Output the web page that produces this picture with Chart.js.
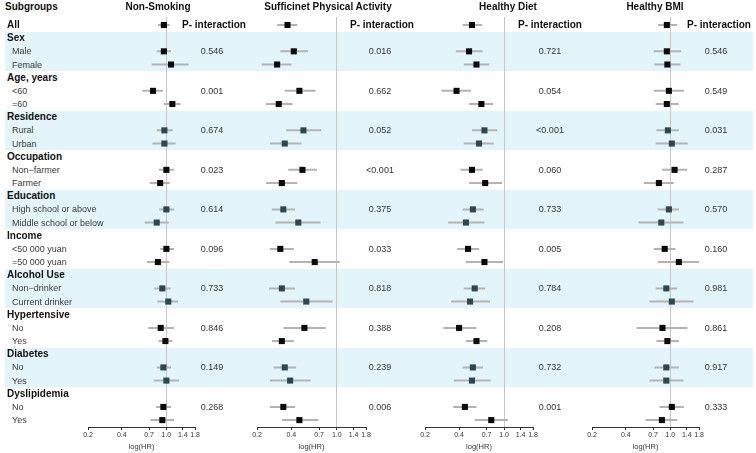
<!DOCTYPE html>
<html>
<head>
<meta charset="utf-8">
<script src="https://cdn.jsdelivr.net/npm/chart.js@4.4.0/dist/chart.umd.min.js"></script>
<style>
  html, body { margin: 0; padding: 0; background: #fff; }
  #stage { position: relative; width: 756px; height: 453px; overflow: hidden;
           font-family: "Liberation Sans", Arial, sans-serif; }
  .band { position: absolute; left: 5px; width: 748px; background: #e3f4fa; }
  .txt  { position: absolute; white-space: nowrap; line-height: 1; transform: translateY(-50%); }
  .ctr  { transform: translate(-50%, -50%); }
  .hd   { font-weight: bold; font-size: 10px; color: #111; }
  .sub  { font-size: 9px; color: #3a3a3a; }
  .pv   { font-size: 9px; color: #333; }
  canvas { position: absolute; top: 0; }
</style>
</head>
<body>
<div id="stage"></div>
<script>
// ---- data ----
const groups = ["Sex", "Age, years", "Residence", "Occupation", "Education",
                "Income", "Alcohol Use", "Hypertensive", "Diabetes", "Dyslipidemia"];
const subgroups = [
  ["Male", "Female"], ["<60", "=60"], ["Rural", "Urban"], ["Non\u2212farmer", "Farmer"],
  ["High school or above", "Middle school or below"], ["<50 000 yuan", "=50 000 yuan"],
  ["Non\u2212drinker", "Current drinker"], ["No", "Yes"], ["No", "Yes"], ["No", "Yes"],
];
const slateGroups = ["Residence", "Education", "Alcohol Use", "Diabetes"];
const bandGroups  = ["Sex", "Residence", "Education", "Alcohol Use", "Diabetes"];

const panelTitles = ["Non-Smoking", "Sufficinet Physical Activity", "Healthy Diet", "Healthy BMI"];
const tickValues  = [0.2, 0.4, 0.7, 1.0, 1.4, 1.8];

// order: All, then the two subgroups of each group
const nonSmokingHR   = [0.95, 0.95, 1.10, 0.76, 1.13, 0.96, 0.96, 1.00, 0.88, 1.00, 0.82, 1.00, 0.84, 0.92, 1.04, 0.89, 0.98, 0.94, 1.00, 0.94, 0.92];
const nonSmokingLow  = [0.84, 0.82, 0.74, 0.61, 0.95, 0.82, 0.75, 0.86, 0.71, 0.86, 0.64, 0.88, 0.67, 0.78, 0.83, 0.69, 0.85, 0.82, 0.77, 0.81, 0.72];
const nonSmokingHigh = [1.07, 1.10, 1.58, 0.93, 1.34, 1.14, 1.21, 1.17, 1.07, 1.17, 1.05, 1.17, 1.06, 1.09, 1.27, 1.17, 1.13, 1.10, 1.30, 1.10, 1.17];
const nonSmokingP    = ["0.546", "0.001", "0.674", "0.023", "0.614", "0.096", "0.733", "0.846", "0.149", "0.268"];

const activityHR   = [0.37, 0.42, 0.30, 0.47, 0.31, 0.51, 0.35, 0.50, 0.33, 0.34, 0.46, 0.32, 0.64, 0.33, 0.54, 0.52, 0.33, 0.35, 0.39, 0.34, 0.47];
const activityLow  = [0.30, 0.32, 0.22, 0.35, 0.24, 0.36, 0.26, 0.375, 0.24, 0.27, 0.29, 0.26, 0.385, 0.255, 0.32, 0.34, 0.27, 0.28, 0.26, 0.26, 0.33];
const activityHigh = [0.45, 0.56, 0.40, 0.65, 0.41, 0.73, 0.49, 0.67, 0.45, 0.43, 0.72, 0.42, 1.06, 0.43, 0.92, 0.80, 0.42, 0.44, 0.59, 0.43, 0.69];
const activityP    = ["0.016", "0.662", "0.052", "<0.001", "0.375", "0.033", "0.818", "0.388", "0.239", "0.006"];

const dietHR   = [0.52, 0.49, 0.57, 0.38, 0.63, 0.67, 0.60, 0.52, 0.68, 0.53, 0.46, 0.48, 0.67, 0.55, 0.50, 0.40, 0.57, 0.53, 0.52, 0.45, 0.77];
const dietLow  = [0.43, 0.375, 0.44, 0.28, 0.49, 0.52, 0.44, 0.41, 0.49, 0.43, 0.32, 0.385, 0.46, 0.44, 0.34, 0.29, 0.46, 0.43, 0.36, 0.355, 0.55];
const dietHigh = [0.64, 0.645, 0.74, 0.51, 0.80, 0.87, 0.81, 0.645, 0.96, 0.66, 0.67, 0.60, 0.98, 0.68, 0.75, 0.57, 0.71, 0.65, 0.76, 0.57, 1.08];
const dietP    = ["0.721", "0.054", "<0.001", "0.060", "0.733", "0.005", "0.784", "0.208", "0.732", "0.001"];

const bmiHR   = [0.93, 0.93, 0.94, 0.97, 0.93, 0.95, 1.03, 1.09, 0.79, 0.97, 0.83, 0.89, 1.19, 0.92, 1.03, 0.85, 0.94, 0.92, 0.92, 1.03, 0.84];
const bmiLow  = [0.775, 0.71, 0.72, 0.71, 0.74, 0.75, 0.74, 0.84, 0.58, 0.77, 0.52, 0.71, 0.775, 0.74, 0.65, 0.50, 0.75, 0.72, 0.65, 0.80, 0.60];
const bmiHigh = [1.15, 1.25, 1.23, 1.32, 1.19, 1.19, 1.43, 1.41, 1.07, 1.19, 1.31, 1.11, 1.80, 1.15, 1.61, 1.42, 1.19, 1.19, 1.31, 1.32, 1.15];
const bmiP    = ["0.546", "0.549", "0.031", "0.287", "0.570", "0.160", "0.981", "0.861", "0.917", "0.333"];

// ---- layout ----
const ROW0 = 25, ROW_H = 13.17;       // centre of first row, row pitch
const PLOT_TOP = 17, AXIS_Y = 427;    // reference line top, axis line
const axisLeft  = [88, 257, 425, 592];
const axisRight = [195, 366, 533, 699];
const titleX    = [158, 328, 508, 655];
const pHeadX    = [214, 382, 550, 719];
const pValX     = [212, 380, 550, 716];
const BLACK = "#0a0a0a", SLATE = "#2f4550", CI_GREY = "#b3b3b3";

const panels = [
  { hr: nonSmokingHR, lo: nonSmokingLow, hi: nonSmokingHigh, p: nonSmokingP },
  { hr: activityHR,   lo: activityLow,   hi: activityHigh,   p: activityP },
  { hr: dietHR,       lo: dietLow,       hi: dietHigh,       p: dietP },
  { hr: bmiHR,        lo: bmiLow,        hi: bmiHigh,        p: bmiP },
];

// rows: All, then header + subgroups
const rows = [{ label: "All", head: true, idx: 0, group: null }];
let n = 1;
groups.forEach((g, gi) => {
  rows.push({ label: g, head: true, group: g, gi });
  subgroups[gi].forEach((s, si) => rows.push({ label: s, head: false, idx: n++, group: g, gi, first: si === 0 }));
});

const stage = document.getElementById("stage");
const rowY = (i) => ROW0 + i * ROW_H;

function _text(str, x, y, cls) {
  const d = document.createElement("div");
  d.className = "txt " + cls;
  d.style.left = x + "px";
  d.style.top = y + "px";
  d.textContent = str;
  stage.appendChild(d);
}

// background bands
rows.forEach((r, i) => {
  if (!r.head || !bandGroups.includes(r.group)) return;
  const b = document.createElement("div");
  b.className = "band";
  b.style.top = (rowY(i) - ROW_H / 2) + "px";
  b.style.height = (ROW_H * 3) + "px";
  stage.appendChild(b);
});

// one chart per exposure
panels.forEach((p, pi) => {
  const pad = 10;
  const w = axisRight[pi] - axisLeft[pi] + 2 * pad;
  const cv = document.createElement("canvas");
  cv.width = w; cv.height = 453;
  cv.style.left = (axisLeft[pi] - pad) + "px";
  cv.style.width = w + "px"; cv.style.height = "453px";
  stage.appendChild(cv);

  const pts = [], colors = [], ci = [];
  rows.forEach((r, ri) => {
    if (r.idx === undefined) return;
    pts.push({ x: p.hr[r.idx], y: ri });
    colors.push(slateGroups.includes(r.group) ? SLATE : BLACK);
    ci.push({ x: p.lo[r.idx], y: ri }, { x: p.hi[r.idx], y: ri }, { x: null, y: null });
  });

  new Chart(cv, {
    type: "scatter",
    data: {
      datasets: [
        { data: pts, order: 0, pointStyle: "rect", pointRadius: 4.3, pointHoverRadius: 4.3,
          pointBackgroundColor: colors, pointBorderColor: colors, pointBorderWidth: 0, clip: false },
        { data: ci, order: 1, showLine: true, spanGaps: false, pointRadius: 0,
          borderColor: CI_GREY, borderWidth: 2, clip: false },
      ],
    },
    options: {
      responsive: false,
      animation: false,
      devicePixelRatio: 1,
      layout: { padding: { left: pad, right: pad, top: PLOT_TOP, bottom: 0 } },
      plugins: { legend: { display: false }, tooltip: { enabled: false } },
      scales: {
        x: {
          type: "logarithmic",
          min: 0.2, max: 1.8,
          afterBuildTicks: (s) => { s.ticks = tickValues.map((v) => ({ value: v })); },
          afterFit: (s) => { s.height = 453 - AXIS_Y; },
          ticks: {
            autoSkip: false, maxRotation: 0, padding: 1, color: "#333",
            font: { family: "Liberation Sans", size: 7 },
            callback: (v) => Number(v).toFixed(1),
          },
          grid: {
            color: (c) => (c.tick && c.tick.value === 1 ? "#c6c6c6" : "rgba(0,0,0,0)"),
            tickColor: "#333", tickLength: 3, lineWidth: 1,
          },
          border: { display: true, color: "#333", width: 1 },
          title: {
            display: true, text: "log(HR)", color: "#333", padding: { top: 0, bottom: 2 },
            font: { family: "Liberation Sans", size: 7.5 },
          },
        },
        y: {
          type: "linear", display: false, reverse: true,
          min: (PLOT_TOP - ROW0) / ROW_H,
          max: (AXIS_Y - ROW0) / ROW_H,
        },
      },
    },
  });
});

// text
_text("Subgroups", 5, 6.5, "hd");
panelTitles.forEach((t, pi) => {
  _text(t, titleX[pi], 6.5, "hd ctr");
  _text("P- interaction", pHeadX[pi], rowY(0), "hd ctr");
});
rows.forEach((r, i) => {
  _text(r.label, r.head ? 7 : 12, rowY(i), r.head ? "hd" : "sub");
  if (r.first) panels.forEach((p, pi) => _text(p.p[r.gi], pValX[pi], rowY(i), "pv ctr"));
});
</script>
</body>
</html>
